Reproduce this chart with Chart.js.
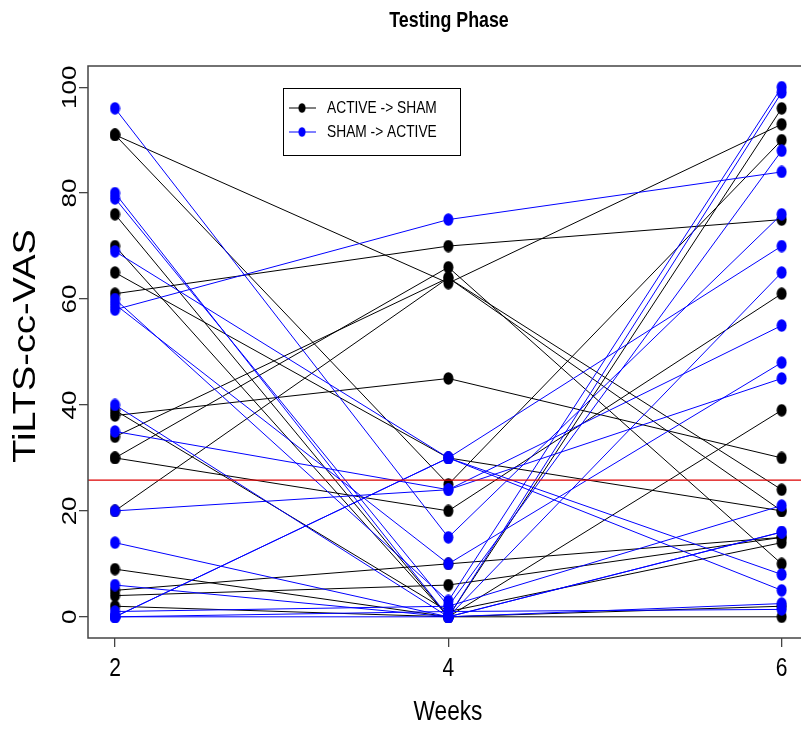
<!DOCTYPE html>
<html>
<head>
<meta charset="utf-8">
<script src="https://cdn.jsdelivr.net/npm/chart.js@4.4.1/dist/chart.umd.min.js"></script>
<style>
html, body { margin: 0; padding: 0; background: #fff; overflow: hidden; }
#wrap { width: 801px; height: 729px; overflow: hidden; }
canvas { display: block; }
</style>
</head>
<body>
<div id="wrap"><canvas id="grafico" width="830" height="729"></canvas></div>
<script>
// semanas medidas
const semanas = [2, 4, 6];
const xTicks = [2, 4, 6];
const yTicks = [0, 20, 40, 60, 80, 100];
const corte = 25.8;

// ACTIVE -> SHAM (negro)
const activoS2 = [91, 91, 76, 70, 65, 61, 39, 38, 34, 30, 30, 20, 9, 5, 4, 2];
const activoS4 = [63, 25, 0, 0, 30, 70, 1, 45, 64, 66, 20, 64, 0, 10, 6, 0];
const activoS6 = [93, 90, 96, 39, 20, 75, 14, 30, 24, 10, 61, 20, 0, 15, 15, 2];

// SHAM -> ACTIVE (azul)
const shamS2 = [96, 80, 79, 69, 60, 59, 58, 40, 35, 20, 14, 6, 1, 0, 0, 0, 0];
const shamS4 = [15, 0, 2, 30, 3, 10, 75, 0, 24, 24, 0, 0, 2, 30, 30, 0, 1];
const shamS6 = [76, 99, 88, 70, 100, 48, 84, 65, 45, 55, 16, 16, 21, 8, 5, 2.5, 1.4];

const apriete = 0.81;

function punto(color) {
        const c = document.createElement('canvas');
        c.width = 11; c.height = 13;
        const g = c.getContext('2d');
        g.fillStyle = color;
        g.beginPath();
        g.ellipse(5.5, 6.5, 5, 6.2, 0, 0, Math.PI * 2);
        g.fill();
        return c;
}
const puntoNegro = punto('#000000');
const puntoAzul = punto('#0000ff');

function serie(a, b, c, color, img, orden) {
        return {
                data: semanas.map((w, k) => ({ x: w, y: [a, b, c][k] })),
                borderColor: color,
                borderWidth: 1,
                pointStyle: img,
                pointRadius: 6,
                pointHoverRadius: 6,
                fill: false,
                order: orden
        };
}

const datasets = [];
datasets.push({
        data: [{ x: 1.838, y: corte }, { x: 6.146, y: corte }],
        borderColor: '#dd0000',
        borderWidth: 1.3,
        pointRadius: 0,
        order: 0
});
for (let i = 0; i < shamS2.length; i++) {
        datasets.push(serie(shamS2[i], shamS4[i], shamS6[i], '#0000ff', puntoAzul, 1));
}
for (let i = 0; i < activoS2.length; i++) {
        datasets.push(serie(activoS2[i], activoS4[i], activoS6[i], '#000000', puntoNegro, 2));
}

function texto(ctx, str, x, y, font, rot) {
        ctx.save();
        ctx.translate(x, y);
        if (rot) {
                ctx.rotate(-Math.PI / 2);
                ctx.scale(1, apriete);
        } else {
                ctx.scale(apriete, 1);
        }
        ctx.font = font;
        ctx.fillStyle = '#000';
        ctx.textAlign = 'center';
        ctx.textBaseline = 'middle';
        ctx.fillText(str, 0, 0);
        ctx.restore();
}

const adornos = {
        id: 'adornos',
        afterDraw(chart) {
                const ctx = chart.ctx;
                const ca = chart.chartArea;
                const xs = chart.scales.x;
                const ys = chart.scales.y;
                ctx.save();
                ctx.strokeStyle = '#444';
                ctx.lineWidth = 1.5;
                ctx.strokeRect(ca.left, ca.top, ca.right - ca.left, ca.bottom - ca.top);
                ctx.restore();

                xTicks.forEach(v => texto(ctx, String(v), xs.getPixelForValue(v), ca.bottom + 31, '26px "Liberation Sans", Arial, sans-serif', false));
                yTicks.forEach(v => texto(ctx, String(v), 70, ys.getPixelForValue(v), '26px "Liberation Sans", Arial, sans-serif', true));

                texto(ctx, 'Testing Phase', 449, 21, 'bold 22px "Liberation Sans", Arial, sans-serif', false);
                texto(ctx, 'Weeks', 448, 712, '28px "Liberation Sans", Arial, sans-serif', false);
                texto(ctx, 'TiLTS-cc-VAS', 27, 346, '38px "Liberation Sans", Arial, sans-serif', true);

                // leyenda
                const lx = 283, ly = 88, lw = 177, lh = 67;
                ctx.save();
                ctx.fillStyle = '#fff';
                ctx.fillRect(lx, ly, lw, lh);
                ctx.strokeStyle = '#000';
                ctx.lineWidth = 1;
                ctx.strokeRect(lx + 0.5, ly + 0.5, lw, lh);
                const items = [['ACTIVE -> SHAM', '#000000', puntoNegro, 108], ['SHAM -> ACTIVE', '#0000ff', puntoAzul, 132]];
                items.forEach(it => {
                        ctx.strokeStyle = it[1];
                        ctx.beginPath();
                        ctx.moveTo(289, it[3]);
                        ctx.lineTo(316, it[3]);
                        ctx.stroke();
                        ctx.drawImage(it[2], 302 - 4, it[3] - 5, 8, 10);
                        ctx.save();
                        ctx.translate(327, it[3]);
                        ctx.scale(apriete, 1);
                        ctx.font = '17px "Liberation Sans", Arial, sans-serif';
                        ctx.fillStyle = '#000';
                        ctx.textAlign = 'left';
                        ctx.textBaseline = 'middle';
                        ctx.fillText(it[0], 0, 0);
                        ctx.restore();
                });
                ctx.restore();
        }
};

const ctx = document.getElementById('grafico');
const myChart = new Chart(ctx, {
        type: 'line',
        data: { datasets: datasets },
        plugins: [adornos],
        options: {
                responsive: false,
                animation: false,
                devicePixelRatio: 1,
                layout: { padding: { top: 66, right: 24, left: 0, bottom: 0 } },
                plugins: { legend: { display: false }, tooltip: { enabled: false }, title: { display: false } },
                scales: {
                        x: {
                                type: 'linear',
                                min: 1.838,
                                max: 6.146,
                                afterBuildTicks: s => { s.ticks = xTicks.map(v => ({ value: v })); },
                                afterFit: s => { s.height = 91; },
                                ticks: { display: false },
                                border: { display: false },
                                grid: { drawOnChartArea: false, drawTicks: true, tickLength: 9, color: '#444', lineWidth: 1.3 }
                        },
                        y: {
                                type: 'linear',
                                min: -4,
                                max: 104,
                                afterBuildTicks: s => { s.ticks = yTicks.map(v => ({ value: v })); },
                                afterFit: s => { s.width = 88; },
                                ticks: { display: false },
                                border: { display: false },
                                grid: { drawOnChartArea: false, drawTicks: true, tickLength: 9, color: '#444', lineWidth: 1.3 }
                        }
                }
        }
});
</script>
</body>
</html>
